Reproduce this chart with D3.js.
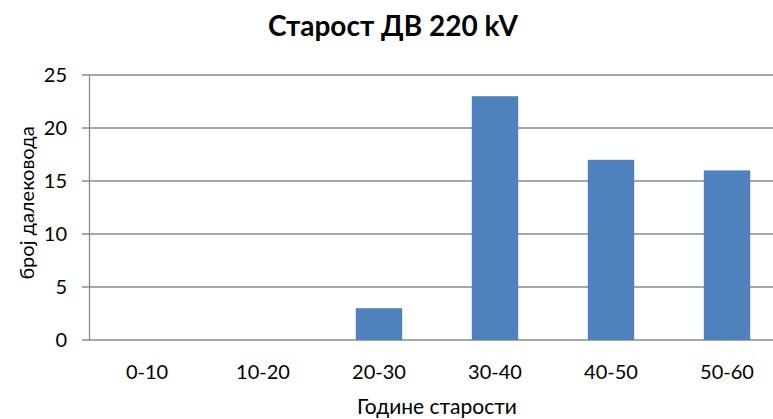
<!DOCTYPE html>
<html>
<head>
    <meta charset="utf-8">
    <title>Старост ДВ 220 kV</title>
    <script src="https://d3js.org/d3.v7.min.js"></script>
    <style>
        body { margin: 0; background: #fff; }
        svg { display: block; font-family: Lato, "Open Sans", sans-serif; }
    </style>
</head>
<body>
    <script>
        // data
        const categories = ["0-10", "10-20", "20-30", "30-40", "40-50", "50-60"];
        const counts = [0, 0, 3, 23, 17, 16];
        const yTicks = [0, 5, 10, 15, 20, 25];

        const width = 773;
        const height = 419;

        const svg = d3.select("body")
            .append("svg")
            .attr("width", width)
            .attr("height", height);

        // plot area runs past the right edge (the original is cropped there)
        const xScale = d3.scaleBand()
            .domain(categories)
            .range([89, 785])
            .padding(0);

        const yScale = d3.scaleLinear()
            .domain([0, 25])
            .range([340, 75]);

        // gridlines
        svg.append("g")
            .selectAll("line")
            .data(yTicks)
            .join("line")
            .attr("x1", 82)
            .attr("x2", 785)
            .attr("y1", d => yScale(d))
            .attr("y2", d => yScale(d))
            .attr("stroke", "#8a8a8a")
            .attr("stroke-width", 1.3);

        // y axis line
        svg.append("line")
            .attr("x1", 89.5).attr("x2", 89.5)
            .attr("y1", yScale(25)).attr("y2", yScale(0))
            .attr("stroke", "#8a8a8a")
            .attr("stroke-width", 1.3);

        // y tick labels
        svg.append("g")
            .selectAll("text")
            .data(yTicks)
            .join("text")
            .attr("x", 67)
            .attr("y", d => yScale(d))
            .attr("dy", "0.36em")
            .attr("text-anchor", "end")
            .attr("font-size", 20)
            .attr("fill", "#000")
            .text(d => d);

        // bars
        const barW = xScale.bandwidth() * 0.4;
        svg.append("g")
            .selectAll("rect")
            .data(categories)
            .join("rect")
            .attr("x", (d) => xScale(d) + (xScale.bandwidth() - barW) / 2)
            .attr("y", (d, i) => yScale(counts[i]))
            .attr("width", barW)
            .attr("height", (d, i) => yScale(0) - yScale(counts[i]))
            .attr("fill", "#4f81bd");

        // x tick labels
        svg.append("g")
            .selectAll("text")
            .data(categories)
            .join("text")
            .attr("x", d => xScale(d) + xScale.bandwidth() / 2)
            .attr("y", 379)
            .attr("text-anchor", "middle")
            .attr("font-size", 20)
            .attr("fill", "#000")
            .text(d => d);

        // title
        svg.append("text")
            .attr("x", 393)
            .attr("y", 36)
            .attr("text-anchor", "middle")
            .attr("font-size", 28)
            .attr("font-weight", "bold")
            .attr("fill", "#000")
            .text("Старост ДВ 220 kV");

        // axis titles
        svg.append("text")
            .attr("x", 437)
            .attr("y", 414)
            .attr("text-anchor", "middle")
            .attr("font-size", 21)
            .attr("fill", "#000")
            .text("Године старости");

        svg.append("text")
            .attr("transform", "translate(34,203) rotate(-90)")
            .attr("text-anchor", "middle")
            .attr("font-size", 20)
            .attr("fill", "#000")
            .text("број далековода");
    </script>
</body>
</html>
